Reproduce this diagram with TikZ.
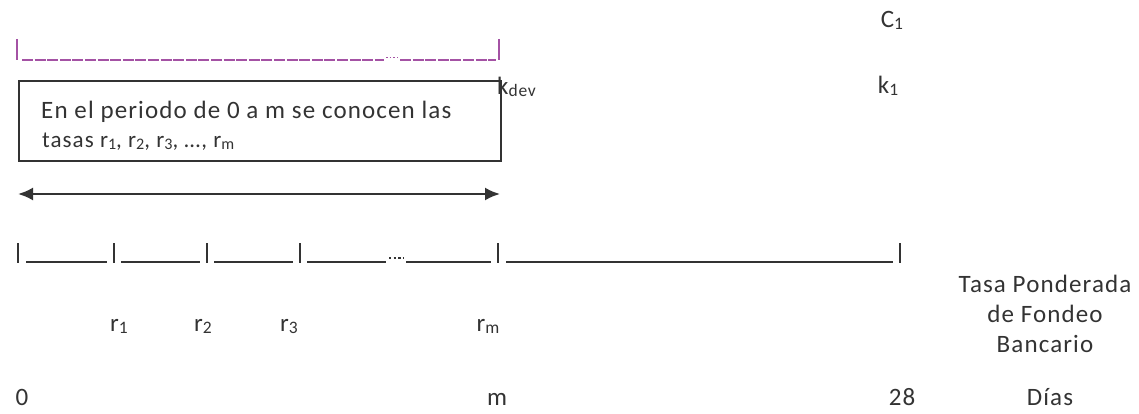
\documentclass[tikz,border=0pt]{standalone}
\usepackage{fontspec}
\setmainfont{Carlito}[LetterSpace=4.5]
\usetikzlibrary{arrows.meta}
\definecolor{ink}{HTML}{333333}
\definecolor{plum}{HTML}{A452A4}
% small lowered index, as in r1, C1, kdev
\newcommand{\idx}[1]{\raisebox{-0.08em}{\scalebox{0.7}{#1}}}
\newcommand{\fs}[1]{\fontsize{#1}{#1}\selectfont}
\begin{document}
\begin{tikzpicture}[x=1pt,y=-1pt,
  lbl/.style={inner sep=0pt,text=ink,font=\fs{25}},
  small/.style={inner sep=0pt,text=ink,font=\fs{23}},
  tick/.style={draw=ink,line width=2pt},
  seg/.style={draw=ink,line width=2pt},
  pbar/.style={draw=plum,line width=1.3pt},
  infobox/.style={draw=ink,line width=1.6pt,minimum width=482pt,minimum height=80pt,inner sep=0pt}]
\useasboundingbox (0,0) rectangle (1139,414);

% upper (purple) period bracket
\coordinate (pa) at (17,39);
\coordinate (pb) at (17,60);
\coordinate (pc) at (499,39);
\coordinate (pd) at (499,60);
\draw[pbar] (pa) -- (pb);
\draw[pbar] (pc) -- (pd);
\draw[pbar,dash pattern=on 11pt off 1.6pt] (22,60) -- (384,60);
\draw[pbar,dash pattern=on 1.5pt off 2.2pt] (386,57.5) -- (398,57.5);
\draw[pbar,dash pattern=on 11pt off 1.6pt] (400,60) -- (496,60);

\node[lbl,anchor=base] (c1) at (892,28) {C\idx{1}};
\node[lbl,anchor=base west] (kdev) at (497,95) {k\idx{dev}};
\node[lbl,anchor=base] (k1) at (888,94) {k\idx{1}};

% information box
\node[infobox,anchor=north west] (box) at (18,80) {};
\node[lbl,anchor=base west] (l1) at (41,119) {En el periodo de 0 a m se conocen las};
\node[small,anchor=base west] (l2) at (42,148) {tasas r\idx{1}, r\idx{2}, r\idx{3}, …, r\idx{m}};

% span of the known rates
\coordinate (aL) at (18,194);
\coordinate (aR) at (500,194);
\draw[draw=ink,line width=2.2pt,{Latex[length=15pt,width=13pt]}-{Latex[length=15pt,width=13pt]}] (aL) -- (aR);

% time line with ticks
\foreach \n/\x in {0/18,1/114,2/207,3/300,4/498,5/900}{
  \coordinate (t\n) at (\x,263);
  \draw[tick] (\x,243) -- (t\n);
}
\draw[seg] (26,261.5) -- (107,261.5);
\draw[seg] (121,261.5) -- (200,261.5);
\draw[seg] (214,261.5) -- (293,261.5);
\draw[seg] (307,261.5) -- (386,261.5);
\draw[draw=ink,line width=2.4pt,dash pattern=on 2.4pt off 2.2pt] (389,258) -- (403,258);
\draw[seg] (406,261.5) -- (491,261.5);
\draw[seg] (506,261.5) -- (893,261.5);

% rates
\node[lbl,anchor=base] (r1) at (119,331) {r\idx{1}};
\node[lbl,anchor=base] (r2) at (203,331) {r\idx{2}};
\node[lbl,anchor=base] (r3) at (289,331) {r\idx{3}};
\node[lbl,anchor=base] (rm) at (488,331) {r\idx{m}};

\node[lbl,anchor=base] (tasa) at (1045,292) {Tasa Ponderada};
\node[lbl,anchor=base] (fondeo) at (1045,322) {de Fondeo};
\node[lbl,anchor=base] (banc) at (1045,352) {Bancario};

% day marks
\node[lbl,anchor=base] (d0) at (22,405) {0};
\node[lbl,anchor=base] (dm) at (497,405) {m};
\node[lbl,anchor=base] (d28) at (902,405) {28};
\node[lbl,anchor=base] (dias) at (1050,405) {Días};
\end{tikzpicture}
\end{document}
